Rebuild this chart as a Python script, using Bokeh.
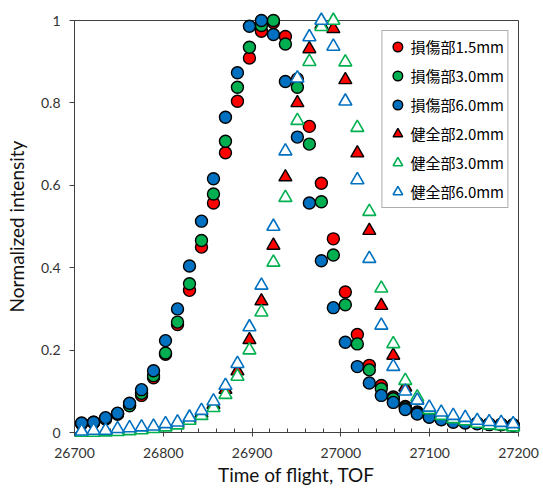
from bokeh.plotting import figure
from bokeh.models import Range1d, FixedTicker, Legend, LegendItem, BasicTickFormatter
from bokeh.embed import file_html
from bokeh.resources import INLINE

tof = [26708, 26721.5, 26735, 26748.5, 26762, 26775.5, 26789, 26802.5, 26816, 26829.5,
       26843, 26856.5, 26870, 26883.5, 26897, 26910.5, 26924, 26937.5, 26951, 26964.5,
       26978, 26991.5, 27005, 27018.5, 27032, 27045.5, 27059, 27072.5, 27086, 27099.5,
       27113, 27126.5, 27140, 27153.5, 27167, 27180.5, 27194]

dmg_15 = [0.022, 0.025, 0.034, 0.045, 0.066, 0.090, 0.133, 0.190, 0.262, 0.345,
          0.450, 0.557, 0.679, 0.804, 0.909, 0.974, 0.995, 0.961, 0.858, 0.743,
          0.605, 0.470, 0.341, 0.238, 0.163, 0.114, 0.086, 0.063, 0.050, 0.040,
          0.034, 0.028, 0.025, 0.023, 0.021, 0.020, 0.019]
dmg_30 = [0.021, 0.024, 0.033, 0.045, 0.065, 0.095, 0.138, 0.193, 0.268, 0.361,
          0.466, 0.579, 0.707, 0.838, 0.935, 0.988, 1.000, 0.943, 0.838, 0.700,
          0.560, 0.431, 0.310, 0.215, 0.152, 0.106, 0.082, 0.060, 0.048, 0.038,
          0.032, 0.027, 0.024, 0.022, 0.020, 0.019, 0.018]
dmg_60 = [0.023, 0.025, 0.036, 0.047, 0.071, 0.104, 0.150, 0.223, 0.300, 0.404,
          0.513, 0.616, 0.765, 0.873, 0.986, 1.000, 0.966, 0.852, 0.717, 0.557,
          0.417, 0.303, 0.219, 0.160, 0.120, 0.090, 0.073, 0.056, 0.045, 0.037,
          0.031, 0.025, 0.023, 0.021, 0.019, 0.019, 0.017]
hlt_20 = [0.002, 0.003, 0.003, 0.005, 0.007, 0.009, 0.012, 0.017, 0.022, 0.033,
          0.047, 0.068, 0.104, 0.149, 0.225, 0.319, 0.454, 0.620, 0.800, 0.931,
          0.990, 0.980, 0.856, 0.678, 0.490, 0.308, 0.187, 0.110, 0.080, 0.055,
          0.043, 0.036, 0.031, 0.025, 0.022, 0.020, 0.017]
hlt_30 = [0.000, 0.000, 0.001, 0.002, 0.004, 0.006, 0.009, 0.013, 0.018, 0.029,
          0.041, 0.060, 0.092, 0.136, 0.200, 0.292, 0.413, 0.570, 0.757, 0.900,
          0.985, 1.000, 0.899, 0.740, 0.536, 0.350, 0.215, 0.126, 0.086, 0.055,
          0.041, 0.033, 0.028, 0.022, 0.018, 0.016, 0.013]
hlt_60 = [0.003, 0.005, 0.005, 0.009, 0.011, 0.013, 0.015, 0.021, 0.025, 0.037,
          0.053, 0.076, 0.114, 0.167, 0.256, 0.357, 0.500, 0.683, 0.860, 0.960,
          1.000, 0.937, 0.804, 0.613, 0.422, 0.260, 0.160, 0.100, 0.078, 0.061,
          0.049, 0.041, 0.036, 0.029, 0.026, 0.024, 0.021]

labels = ["損傷部1.5mm", "損傷部3.0mm", "損傷部6.0mm", "健全部2.0mm", "健全部3.0mm", "健全部6.0mm"]
x_ticks = [26700, 26800, 26900, 27000, 27100, 27200]
y_ticks = [0, 0.2, 0.4, 0.6, 0.8, 1]
y_tick_labels = ["0", "0.2", "0.4", "0.6", "0.8", "1"]

RED, GREEN, BLUE = "#FF0000", "#00B050", "#0070C0"

p = figure(width=543, height=491, output_backend="svg", toolbar_location=None,
           x_range=Range1d(26700, 27200), y_range=Range1d(0, 1),
           min_border_left=74, min_border_right=25, min_border_top=20, min_border_bottom=59)
p.xgrid.visible = False
p.ygrid.visible = False
p.outline_line_color = "#404040"
p.outline_line_width = 1
p.background_fill_color = "white"
p.border_fill_color = "white"

rs = []
for ys, col in [(dmg_15, RED), (dmg_30, GREEN), (dmg_60, BLUE)]:
    rs.append(p.scatter(tof, ys, marker="circle", size=12, fill_color=col,
                        line_color="black", line_width=1.4, level="overlay"))
rs.append(p.scatter(tof, hlt_20, marker="triangle", size=13, fill_color=RED,
                    line_color="black", line_width=1.4, level="overlay"))
for ys, col in [(hlt_30, GREEN), (hlt_60, BLUE)]:
    rs.append(p.scatter(tof, ys, marker="triangle", size=13, fill_color="white",
                        line_color=col, line_width=1.6, level="overlay"))

legend = Legend(items=[LegendItem(label=l, renderers=[r]) for l, r in zip(labels, rs)],
                location="top_right", margin=10, padding=3, spacing=4,
                glyph_width=24, glyph_height=25, label_height=25, label_standoff=1,
                label_text_font="Noto Sans CJK JP", label_text_font_size="15px",
                label_text_color="#000000",
                border_line_color="#595959", border_line_width=1,
                background_fill_alpha=1.0)
p.add_layout(legend)

for ax in (p.xaxis[0], p.yaxis[0]):
    ax.axis_line_color = "#404040"
    ax.major_tick_line_color = "#404040"
    ax.minor_tick_line_color = "#404040"
    ax.major_label_text_font = "Lato"
    ax.major_label_text_font_size = "14px"
    ax.major_label_text_color = "#333333"
    ax.axis_label_text_font = "Lato"
    ax.axis_label_text_font_size = "19px"
    ax.axis_label_text_font_style = "normal"
    ax.axis_label_text_color = "#111111"

p.xaxis.ticker = FixedTicker(ticks=x_ticks,
                             minor_ticks=[26700 + 20 * k for k in range(26)])
p.xaxis.formatter = BasicTickFormatter(use_scientific=False)
p.xaxis.major_tick_in = 4
p.xaxis.major_tick_out = 4
p.xaxis.minor_tick_in = 4
p.xaxis.minor_tick_out = 0
p.xaxis.major_label_standoff = 11
p.xaxis.axis_label = "Time of flight, TOF"
p.xaxis.axis_label_standoff = 2

p.yaxis.ticker = FixedTicker(ticks=y_ticks, minor_ticks=[])
p.yaxis.major_label_overrides = {t: s for t, s in zip(y_ticks, y_tick_labels)}
p.yaxis.major_tick_in = 0
p.yaxis.major_tick_out = 5
p.yaxis.major_label_standoff = 9
p.yaxis.axis_label = "Normalized intensity"
p.yaxis.axis_label_standoff = 10

open("out.html", "w").write(file_html(p, INLINE))
